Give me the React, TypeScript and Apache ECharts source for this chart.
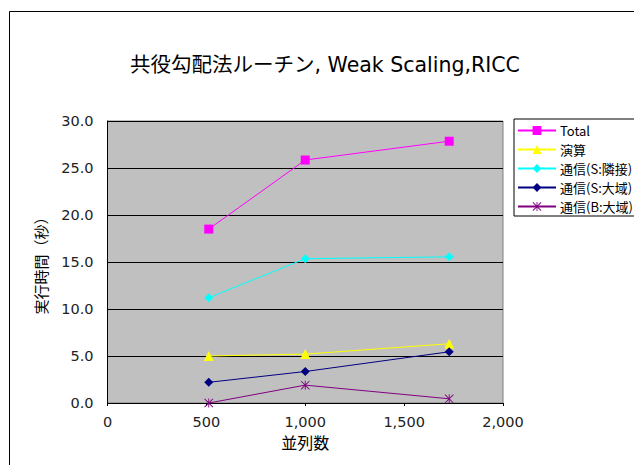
import React, { useEffect, useRef } from "react";
import * as echarts from "echarts";

const procs = [512, 1000, 1728];
const total = [18.5, 25.85, 27.85];
const compute = [5.0, 5.2, 6.3];
const commNeighbor = [11.2, 15.35, 15.55];
const commSmallGlobal = [2.2, 3.35, 5.45];
const commBigGlobal = [0.0, 1.9, 0.45];
const seriesNames = ["Total", "演算", "通信(S:隣接)", "通信(S:大域)", "通信(B:大域)"];
const xTicks = [0, 500, 1000, 1500, 2000];

const CJK = "'Noto Sans CJK JP', sans-serif";
const WIDE = "'DejaVu Sans', 'Noto Sans CJK JP', sans-serif";
const asterisk =
  "path://M4.5 0 L5.5 0 L5.5 10 L4.5 10 Z M0 0.7 L0.7 0 L10 9.3 L9.3 10 Z M9.3 0 L10 0.7 L0.7 10 L0 9.3 Z";

function pairs(vals: number[]) {
  return procs.map((p, i) => [p, vals[i]]);
}

export default function App() {
  const ref = useRef<HTMLDivElement>(null);
  useEffect(() => {
    const chart = echarts.init(ref.current!, null, { renderer: "svg" });
    const mk = (name: string, vals: number[], color: string, symbol: string, size: number) => ({
      name,
      type: "line",
      data: pairs(vals),
      symbol,
      symbolSize: size,
      lineStyle: { color, width: 1 },
      itemStyle: { color, borderWidth: 0 },
    });
    chart.setOption({
      animation: false,
      backgroundColor: "#ffffff",
      textStyle: { fontFamily: CJK },
      title: {
        text: "共役勾配法ルーチン, Weak Scaling,RICC",
        left: 320,
        textAlign: "center",
        top: 50,
        textStyle: { fontFamily: WIDE, fontSize: 20.5, fontWeight: "normal", color: "#000" },
      },
      graphic: [
        {
          type: "rect",
          shape: { x: 9.5, y: 11.5, width: 700, height: 600 },
          style: { fill: "none", stroke: "#000", lineWidth: 1 },
          z: -1,
        },
      ],
      legend: {
        orient: "vertical",
        left: 514,
        top: 119,
        padding: [5, 2, 3, 3],
        itemGap: 6,
        itemWidth: 38,
        itemHeight: 11,
        borderColor: "#000",
        borderWidth: 1,
        backgroundColor: "#fff",
        textStyle: { fontFamily: CJK, fontSize: 13, color: "#000", padding: [0, 0, 0, -1] },
        data: seriesNames,
      },
      grid: {
        left: 107.5,
        right: 131,
        top: 121,
        bottom: 62,
        show: true,
        backgroundColor: "#c0c0c0",
        borderColor: "#808080",
        borderWidth: 1,
      },
      xAxis: {
        type: "value",
        min: xTicks[0],
        max: xTicks[xTicks.length - 1],
        interval: 500,
        name: "並列数",
        nameLocation: "middle",
        nameGap: 31,
        nameTextStyle: { fontFamily: CJK, fontSize: 16, color: "#000" },
        axisLine: { show: true, lineStyle: { color: "#000", width: 1 } },
        axisTick: { show: true, length: 3, lineStyle: { color: "#000" } },
        splitLine: { show: false },
        axisLabel: {
          margin: 12,
          fontFamily: WIDE,
          fontSize: 14.5,
          color: "#222",
          formatter: (v: number) => v.toLocaleString("en-US"),
        },
      },
      yAxis: {
        type: "value",
        min: 0,
        max: 30,
        interval: 5,
        name: "実行時間（秒）",
        nameLocation: "middle",
        nameGap: 60,
        nameTextStyle: { fontFamily: CJK, fontSize: 15, color: "#000" },
        axisLine: { show: true, lineStyle: { color: "#000", width: 1 } },
        axisTick: { show: true, inside: true, length: 3, lineStyle: { color: "#000" } },
        splitLine: { show: true, lineStyle: { color: "#000", width: 1 } },
        axisLabel: {
          margin: 14,
          fontFamily: WIDE,
          fontSize: 14.5,
          color: "#222",
          formatter: (v: number) => v.toFixed(1),
        },
      },
      series: [
        mk(seriesNames[0], total, "#ff00ff", "rect", 9),
        mk(seriesNames[1], compute, "#ffff00", "triangle", 10),
        mk(seriesNames[2], commNeighbor, "#00ffff", "diamond", 9),
        mk(seriesNames[3], commSmallGlobal, "#000080", "diamond", 9),
        mk(seriesNames[4], commBigGlobal, "#800080", asterisk, 9),
      ],
    });
    return () => chart.dispose();
  }, []);
  return (
    <div
      ref={ref}
      style={{ position: "fixed", left: 0, top: 0, width: 634, height: 465 }}
    />
  );
}
